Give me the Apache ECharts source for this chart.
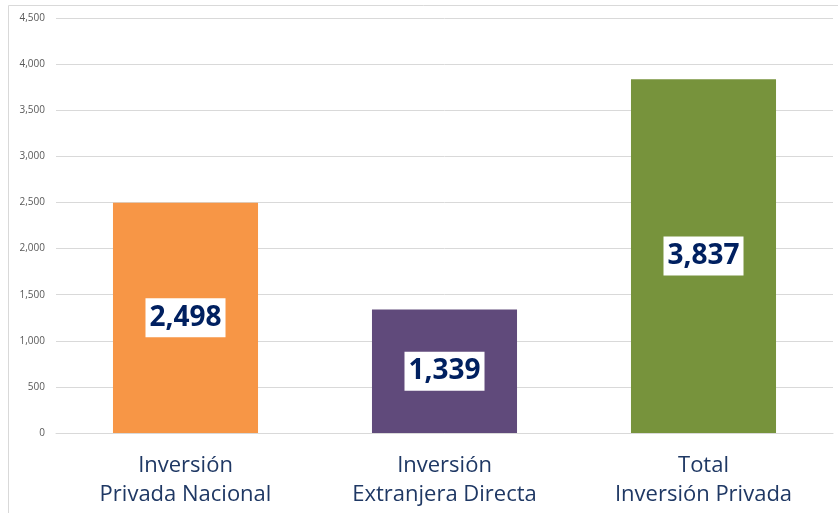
<!DOCTYPE html>
<html><head><meta charset="utf-8">
<script src="https://cdn.jsdelivr.net/npm/echarts@6/dist/echarts.min.js"></script>
<style>html,body{margin:0;padding:0;background:#fff}#c{width:838px;height:513px}</style>
</head><body><div id="c"></div>
<script>
const categories = ['Inversión\nPrivada Nacional', 'Inversión\nExtranjera Directa', 'Total\nInversión Privada'];
const values = [2498, 1339, 3837];
const barColors = ['#F79646', '#604A7B', '#77933C'];
const yTicks = { min: 0, max: 4500, interval: 500 };

const chart = echarts.init(document.getElementById('c'));
chart.setOption({
  animation: false,
  graphic: [{ type: 'rect', shape: { x: 8.5, y: 5.5, width: 840, height: 520 }, style: { fill: 'none', stroke: '#d9d9d9', lineWidth: 1 }, silent: true }],
  grid: { left: 56, right: 5, top: 18, bottom: 80 },
  xAxis: {
    type: 'category', data: categories,
    axisTick: { show: false },
    axisLine: { lineStyle: { color: '#d9d9d9' } },
    axisLabel: { color: '#1F3864', fontSize: 22, fontFamily: 'Open Sans', lineHeight: 29, margin: 18, interval: 0 }
  },
  yAxis: {
    type: 'value', min: yTicks.min, max: yTicks.max, interval: yTicks.interval,
    axisLine: { show: false }, axisTick: { show: false },
    splitLine: { lineStyle: { color: '#d9d9d9' } },
    axisLabel: { color: '#595959', fontSize: 10, fontFamily: 'Open Sans', margin: 11,
      formatter: v => v.toLocaleString('en-US') }
  },
  series: [{
    type: 'bar', barWidth: '56%',
    data: values.map((v, i) => ({ value: v, itemStyle: { color: barColors[i] } })),
    label: {
      show: true, position: 'inside',
      formatter: p => p.value.toLocaleString('en-US'),
      color: '#002060', fontSize: 28, fontWeight: 'bold', fontFamily: 'Open Sans',
      lineHeight: 30, backgroundColor: '#fff', padding: [5, 4, 4, 4]
    }
  }]
});
</script></body></html>
